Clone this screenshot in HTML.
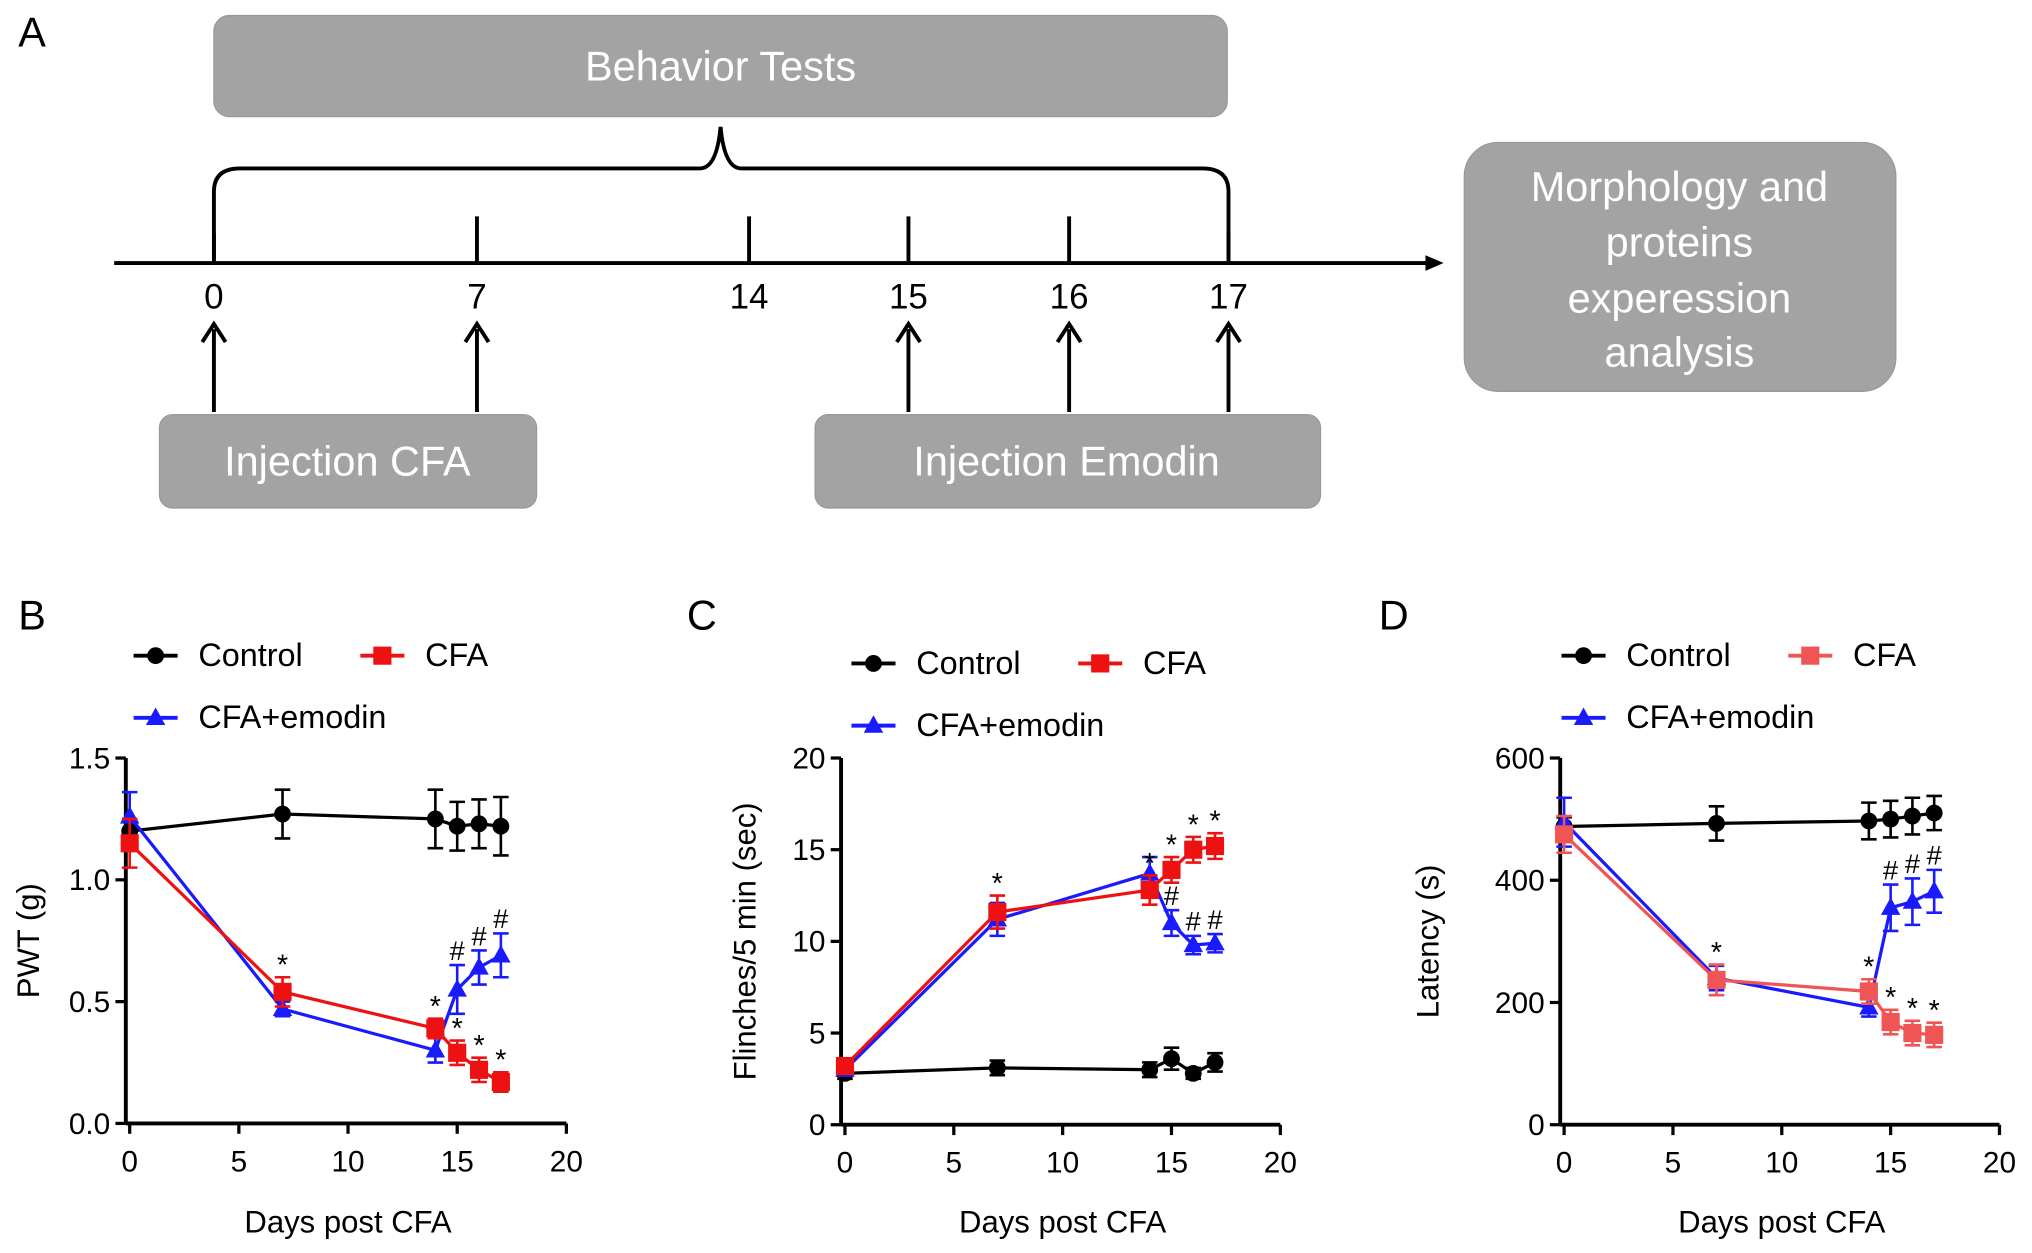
<!DOCTYPE html>
<html><head><meta charset="utf-8"><style>
html,body{margin:0;padding:0;background:#fff;}
svg{display:block;}
text{font-family:"Liberation Sans",Arial,sans-serif;}
</style></head><body>
<svg id="fig" width="2032" height="1253" viewBox="0 0 1568 967" xmlns="http://www.w3.org/2000/svg">
<g>
<text x="14" y="36" font-size="32">A</text>
<rect x="165" y="12" width="782" height="78" rx="12" fill="#a3a3a3" stroke="#999"/>
<text x="556" y="62" font-size="32" fill="#fff" text-anchor="middle">Behavior Tests</text>
<path d="M165,200 L165,148 Q165,130 185,130 L540,130 Q553,130 556,98 Q559,130 572,130 L928,130 Q948,130 948,148 L948,200" fill="none" stroke="#000" stroke-width="3"/>
<line x1="88" y1="203" x2="1104" y2="203" stroke="#000" stroke-width="3"/>
<polygon points="1114,203 1100,197 1100,209" fill="#000"/>
<rect x="123" y="320" width="291" height="72" rx="10" fill="#a3a3a3" stroke="#999"/>
<text x="268" y="367" font-size="32" fill="#fff" text-anchor="middle">Injection CFA</text>
<rect x="629" y="320" width="390" height="72" rx="10" fill="#a3a3a3" stroke="#999"/>
<text x="823" y="367" font-size="32" fill="#fff" text-anchor="middle">Injection Emodin</text>
<rect x="1130" y="110" width="333" height="192" rx="26" fill="#a3a3a3" stroke="#999"/>
<g font-size="32" fill="#fff" text-anchor="middle">
<text x="1296" y="155">Morphology and</text><text x="1296" y="198">proteins</text><text x="1296" y="241">experession</text><text x="1296" y="283">analysis</text></g>
<g id="timeline"></g>
</g>
<g id="charts"></g>
</svg>
<script>
const NS="http://www.w3.org/2000/svg";
const tlDays=["0","7","14","15","16","17"];
const tlX=[165,368,578,701,825,948];
const tlArrows=[true,true,false,true,true,true];

const days=[0,7,14,15,16,17];
const bControl=[1.20,1.27,1.25,1.22,1.23,1.22];
const bControlErr=[0.04,0.10,0.12,0.10,0.10,0.12];
const bCFA=[1.15,0.54,0.39,0.29,0.22,0.17];
const bCFAErr=[0.10,0.06,0.04,0.05,0.05,0.04];
const bEmo=[1.26,0.47,0.30,0.55,0.64,0.69];
const bEmoErr=[0.10,0.03,0.05,0.10,0.07,0.09];
const bYTicks=["0.0","0.5","1.0","1.5"];

const cControl=[2.8,3.1,3.0,3.6,2.8,3.4];
const cControlErr=[0.3,0.4,0.4,0.6,0.3,0.5];
const cCFA=[3.2,11.6,12.8,13.9,15.0,15.2];
const cCFAErr=[0.3,0.9,0.8,0.7,0.7,0.7];
const cEmo=[3.0,11.2,13.7,11.0,9.8,9.9];
const cEmoErr=[0.3,0.9,0.9,0.7,0.5,0.5];
const cYTicks=["0","5","10","15","20"];

const dControl=[488,493,497,500,505,510];
const dControlErr=[15,28,30,30,30,28];
const dCFA=[475,237,218,168,150,147];
const dCFAErr=[30,25,20,20,20,20];
const dEmo=[495,240,192,355,365,382];
const dEmoErr=[40,20,15,38,38,35];
const dYTicks=["0","200","400","600"];

const xTicks=["0","5","10","15","20"];
const starIdx=[1,2,3,4,5];
const hashIdx=[3,4,5];

const svg=document.getElementById('fig');
function el(tag,attrs,parent){const e=document.createElementNS(NS,tag);for(const k in attrs)e.setAttribute(k,attrs[k]);(parent||svg).appendChild(e);return e;}

const tl=document.getElementById('timeline');
tlDays.forEach((d,i)=>{
  const t=el('line',{x1:tlX[i],y1:(i==0||i==5)?180:167,x2:tlX[i],y2:203,stroke:'#000','stroke-width':3},tl);
  
  
  const lb=el('text',{x:tlX[i],y:238,'font-size':27,'text-anchor':'middle'},tl);lb.textContent=d;
  
  
  if(tlArrows[i]){
    const a=el('path',{d:`M${tlX[i]},318 L${tlX[i]},254 M${tlX[i]-9},264 L${tlX[i]},250 L${tlX[i]+9},264`,fill:'none',stroke:'#000','stroke-width':3},tl);
    
    
  }
});

function panel(cfg){
  const g=el('g',{},document.getElementById('charts'));
  
  
  const X=v=>cfg.x0+(cfg.x1-cfg.x0)*v/20;
  const Y=v=>cfg.y0-(cfg.y0-cfg.y1)*v/cfg.ymax;
  const L=el('text',{x:cfg.lx,y:486,'font-size':32},g);L.textContent=cfg.id.toUpperCase();
  
  
  const leg=[[cfg.legX,cfg.legY1,'#000','circle','Control'],[cfg.legX+175,cfg.legY1,cfg.cfaColor,'square','CFA'],[cfg.legX,cfg.legY1+48,'#1a1aff','tri','CFA+emodin']];
  leg.forEach(l=>{
    const lg=el('g',{},g);
    
    
    el('line',{x1:l[0],y1:l[1]-8,x2:l[0]+34,y2:l[1]-8,stroke:l[2],'stroke-width':3},lg);
    marker(lg,l[0]+17,l[1]-8,l[3],l[2]);
    const t=el('text',{x:l[0]+50,y:l[1],'font-size':25},lg);t.textContent=l[4];
  });
  el('line',{x1:cfg.x0-3,y1:cfg.y0,x2:cfg.x1,y2:cfg.y0,stroke:'#000','stroke-width':3},g);
  el('line',{x1:cfg.x0-3,y1:cfg.y0,x2:cfg.x0-3,y2:cfg.y1,stroke:'#000','stroke-width':3},g);
  xTicks.forEach(t=>{const v=+t;el('line',{x1:X(v),y1:cfg.y0,x2:X(v),y2:cfg.y0+8,stroke:'#000','stroke-width':2.5},g);
    const tx=el('text',{x:X(v),y:cfg.y0+37,'font-size':23,'text-anchor':'middle'},g);tx.textContent=t;
    
    });
  cfg.yt.forEach(t=>{const v=+t;el('line',{x1:cfg.x0-11,y1:Y(v),x2:cfg.x0-3,y2:Y(v),stroke:'#000','stroke-width':2.5},g);
    const tx=el('text',{x:cfg.x0-15,y:Y(v)+8,'font-size':23,'text-anchor':'end'},g);tx.textContent=t;
    
    });
  const xt=el('text',{x:(cfg.x0+cfg.x1)/2,y:951,'font-size':24,'text-anchor':'middle'},g);xt.textContent='Days post CFA';
  
  
  const yt=el('text',{x:0,y:0,'font-size':24,'text-anchor':'middle',transform:`translate(${cfg.ytx},${(cfg.y0+cfg.y1)/2}) rotate(-90)`},g);yt.textContent=cfg.ylab;
  
  
  function series(vals,errs,color,shape,name){
    const sg=el('g',{},g);
    
    
    el('polyline',{points:days.map((d,i)=>X(d)+','+Y(vals[i])).join(' '),fill:'none',stroke:color,'stroke-width':2.5},sg);
    days.forEach((d,i)=>{
      const x=X(d),yh=Y(vals[i]+errs[i]),yl=Y(vals[i]-errs[i]);
      el('path',{d:`M${x},${yh}L${x},${yl}M${x-6},${yh}L${x+6},${yh}M${x-6},${yl}L${x+6},${yl}`,stroke:color,'stroke-width':2,fill:'none'},sg);
      const m=marker(sg,x,Y(vals[i]),shape,color);
      
      
    });
  }
  series(cfg.ctl,cfg.ctlE,'#000','circle','control');
  series(cfg.emo,cfg.emoE,'#1a1aff','tri','cfa-emodin');
  series(cfg.cfa,cfg.cfaE,cfg.cfaColor,'square','cfa');
  starIdx.forEach(i=>{const t=el('text',{x:X(days[i]),y:Y(cfg.cfa[i]+cfg.cfaE[i])-2,'font-size':22,'text-anchor':'middle'},g);t.textContent='*';
    
    });
  hashIdx.forEach(i=>{const top=Y(cfg.emo[i]+cfg.emoE[i])-4;
    const t=el('text',{x:X(days[i]),y:top,'font-size':21,'text-anchor':'middle'},g);t.textContent='#';
    
    });
}
function marker(p,x,y,shape,color){
  if(shape=='circle')return el('circle',{cx:x,cy:y,r:6.5,fill:color},p);
  if(shape=='square')return el('rect',{x:x-7,y:y-7,width:14,height:14,fill:color},p);
  return el('polygon',{points:`${x},${y-8} ${x-7.5},${y+5.5} ${x+7.5},${y+5.5}`,fill:color},p);
}
panel({id:'b',lx:14,x0:100,x1:437,y0:867,y1:585,ymax:1.5,yt:bYTicks,ylab:'PWT (g)',ytx:30,legX:103,legY1:514,
  ctl:bControl,ctlE:bControlErr,cfa:bCFA,cfaE:bCFAErr,emo:bEmo,emoE:bEmoErr,cfaColor:'#ee1111'});
panel({id:'c',lx:530,x0:652,x1:988,y0:868,y1:585,ymax:20,yt:cYTicks,ylab:'Flinches/5 min (sec)',ytx:583,legX:657,legY1:520,
  ctl:cControl,ctlE:cControlErr,cfa:cCFA,cfaE:cCFAErr,emo:cEmo,emoE:cEmoErr,cfaColor:'#ee1111'});
panel({id:'d',lx:1064,x0:1207,x1:1543,y0:868,y1:585,ymax:600,yt:dYTicks,ylab:'Latency (s)',ytx:1110,legX:1205,legY1:514,
  ctl:dControl,ctlE:dControlErr,cfa:dCFA,cfaE:dCFAErr,emo:dEmo,emoE:dEmoErr,cfaColor:'#f05555'});
</script>
</body></html>
